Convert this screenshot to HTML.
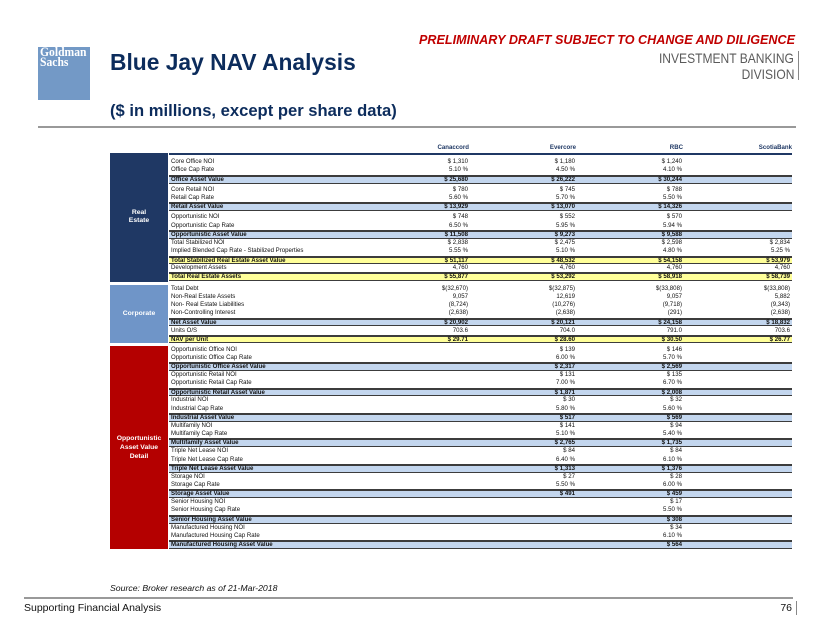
<!DOCTYPE html>
<html><head><meta charset="utf-8">
<style>
html,body{margin:0;padding:0}
body{width:830px;height:641px;position:relative;overflow:hidden;background:#fff;font-family:"Liberation Sans",Arial,sans-serif}
.abs{position:absolute;white-space:nowrap}
.r{position:absolute;left:169px;width:623px;box-sizing:border-box;font-size:6.1px;color:#111;white-space:nowrap}
.r span{position:absolute;top:0}
.l{left:2px}
.a{right:324px}.b{right:217px}.c{right:110px}.d{right:2px}
.s{background:#c3d6ee;border-top:2px solid #3c3c3c;border-bottom:1px solid #3c3c3c;font-weight:bold}
.y{background:#ffff99;border-top:2px solid #3c3c3c;border-bottom:1px solid #3c3c3c;font-weight:bold}
.n84{height:8.4px;line-height:8.4px}
.n83{height:8.3px;line-height:8.3px}
.n8{height:8px;line-height:8px}
.t88{height:8.8px;line-height:5.8px}
.t85{height:8.5px;line-height:5.5px}
.t883{height:8.83px;line-height:5.83px}
.h{position:absolute;top:144px;font-size:6.1px;font-weight:bold;color:#1f3864;line-height:8px;white-space:nowrap}
.box{position:absolute;left:110px;width:58px;display:flex;align-items:center;justify-content:center;text-align:center;color:#fff;font-weight:bold;font-size:6.8px;line-height:8.5px}
</style></head><body>

<!-- Logo -->
<div class="abs" style="left:38px;top:47px;width:52px;height:53px;background:#7399c6;"></div>
<div class="abs" style="left:40px;top:48px;font-family:'Liberation Serif',serif;font-weight:bold;font-size:12.5px;line-height:9.5px;color:#fff;transform:scaleX(0.93);transform-origin:left top;">Goldman<br>Sachs</div>

<!-- Header -->
<div class="abs" style="right:35px;top:33px;font-size:12.6px;line-height:14px;font-weight:bold;font-style:italic;color:#c00000;">PRELIMINARY DRAFT SUBJECT TO CHANGE AND DILIGENCE</div>
<div class="abs" style="right:36px;top:50px;font-size:14px;line-height:16px;color:#5a5a5a;transform:scaleX(0.86);transform-origin:right top;">INVESTMENT BANKING</div>
<div class="abs" style="right:36px;top:66px;font-size:14px;line-height:16px;color:#5a5a5a;transform:scaleX(0.86);transform-origin:right top;">DIVISION</div>
<div class="abs" style="left:798px;top:51px;width:1px;height:29px;background:#888;"></div>

<div class="abs" style="left:110px;top:49px;font-size:22.8px;line-height:26px;font-weight:bold;color:#0c2c5c;">Blue Jay NAV Analysis</div>
<div class="abs" style="left:110px;top:101px;font-size:16.6px;line-height:20px;font-weight:bold;color:#0c2c5c;">($ in millions, except per share data)</div>
<div class="abs" style="left:38px;top:126px;width:758px;height:2px;background:#999;"></div>

<!-- Column headers -->
<div class="h" style="right:361px">Canaccord</div>
<div class="h" style="right:254px">Evercore</div>
<div class="h" style="right:147px">RBC</div>
<div class="h" style="right:38px">ScotiaBank</div>
<div class="abs" style="left:169px;top:153px;width:623px;height:2px;background:#1f3864;"></div>

<!-- Left boxes -->
<div class="box" style="top:153px;height:128.5px;background:#1f3864;">Real<br>Estate</div>
<div class="box" style="top:284.5px;height:58.5px;background:#6f95c8;">Corporate</div>
<div class="box" style="top:345.5px;height:203px;background:#b40000;line-height:9px;">Opportunistic<br>Asset Value<br>Detail</div>

<!-- Real Estate -->
<div class="r n84" style="top:158px"><span class="l">Core Office NOI</span><span class="a">$ 1,310</span><span class="b">$ 1,180</span><span class="c">$ 1,240</span></div>
<div class="r n84" style="top:166.4px"><span class="l">Office Cap Rate</span><span class="a">5.10 %</span><span class="b">4.50 %</span><span class="c">4.10 %</span></div>
<div class="r s t88" style="top:174.8px"><span class="l">Office Asset Value</span><span class="a">$ 25,680</span><span class="b">$ 26,222</span><span class="c">$ 30,244</span></div>
<div class="r n84" style="top:185.6px"><span class="l">Core Retail NOI</span><span class="a">$ 780</span><span class="b">$ 745</span><span class="c">$ 788</span></div>
<div class="r n84" style="top:194px"><span class="l">Retail Cap Rate</span><span class="a">5.60 %</span><span class="b">5.70 %</span><span class="c">5.50 %</span></div>
<div class="r s t88" style="top:202.4px"><span class="l">Retail Asset Value</span><span class="a">$ 13,929</span><span class="b">$ 13,070</span><span class="c">$ 14,326</span></div>
<div class="r n84" style="top:213.2px"><span class="l">Opportunistic NOI</span><span class="a">$ 748</span><span class="b">$ 552</span><span class="c">$ 570</span></div>
<div class="r n84" style="top:221.6px"><span class="l">Opportunistic Cap Rate</span><span class="a">6.50 %</span><span class="b">5.95 %</span><span class="c">5.94 %</span></div>
<div class="r s t88" style="top:230px"><span class="l">Opportunistic Asset Value</span><span class="a">$ 11,508</span><span class="b">$ 9,273</span><span class="c">$ 9,588</span></div>
<div class="r n84" style="top:238.8px"><span class="l">Total Stabilized NOI</span><span class="a">$ 2,838</span><span class="b">$ 2,475</span><span class="c">$ 2,598</span><span class="d">$ 2,834</span></div>
<div class="r n84" style="top:247.2px"><span class="l">Implied Blended Cap Rate - Stabilized Properties</span><span class="a">5.55 %</span><span class="b">5.10 %</span><span class="c">4.80 %</span><span class="d">5.25 %</span></div>
<div class="r y t88" style="top:255.6px"><span class="l">Total Stabilized Real Estate Asset Value</span><span class="a">$ 51,117</span><span class="b">$ 48,532</span><span class="c">$ 54,158</span><span class="d">$ 53,979</span></div>
<div class="r n8" style="top:264.4px"><span class="l">Development Assets</span><span class="a">4,760</span><span class="b">4,760</span><span class="c">4,760</span><span class="d">4,760</span></div>
<div class="r y t88" style="top:272.4px"><span class="l">Total Real Estate Assets</span><span class="a">$ 55,877</span><span class="b">$ 53,292</span><span class="c">$ 58,918</span><span class="d">$ 58,739</span></div>

<!-- Corporate -->
<div class="r n83" style="top:284.5px"><span class="l">Total Debt</span><span class="a">$(32,670)</span><span class="b">$(32,875)</span><span class="c">$(33,808)</span><span class="d">$(33,808)</span></div>
<div class="r n83" style="top:292.8px"><span class="l">Non-Real Estate Assets</span><span class="a">9,057</span><span class="b">12,619</span><span class="c">9,057</span><span class="d">5,882</span></div>
<div class="r n83" style="top:301.1px"><span class="l">Non- Real Estate Liabilities</span><span class="a">(8,724)</span><span class="b">(10,276)</span><span class="c">(9,718)</span><span class="d">(9,343)</span></div>
<div class="r n83" style="top:309.4px"><span class="l">Non-Controlling Interest</span><span class="a">(2,638)</span><span class="b">(2,638)</span><span class="c">(291)</span><span class="d">(2,638)</span></div>
<div class="r s t88" style="top:317.7px"><span class="l">Net Asset Value</span><span class="a">$ 20,902</span><span class="b">$ 20,121</span><span class="c">$ 24,158</span><span class="d">$ 18,832</span></div>
<div class="r n8" style="top:326.5px"><span class="l">Units O/S</span><span class="a">703.6</span><span class="b">704.0</span><span class="c">791.0</span><span class="d">703.6</span></div>
<div class="r y t85" style="top:334.5px"><span class="l">NAV per Unit</span><span class="a">$ 29.71</span><span class="b">$ 28.60</span><span class="c">$ 30.50</span><span class="d">$ 26.77</span></div>

<!-- Opportunistic detail -->
<div class="r n83" style="top:345.5px"><span class="l">Opportunistic Office NOI</span><span class="b">$ 139</span><span class="c">$ 146</span></div>
<div class="r n83" style="top:353.8px"><span class="l">Opportunistic Office Cap Rate</span><span class="b">6.00 %</span><span class="c">5.70 %</span></div>
<div class="r s t883" style="top:362.1px"><span class="l">Opportunistic Office Asset Value</span><span class="b">$ 2,317</span><span class="c">$ 2,569</span></div>

<div class="r n83" style="top:370.93px"><span class="l">Opportunistic Retail NOI</span><span class="b">$ 131</span><span class="c">$ 135</span></div>
<div class="r n83" style="top:379.23px"><span class="l">Opportunistic Retail Cap Rate</span><span class="b">7.00 %</span><span class="c">6.70 %</span></div>
<div class="r s t883" style="top:387.53px"><span class="l">Opportunistic Retail Asset Value</span><span class="b">$ 1,871</span><span class="c">$ 2,008</span></div>

<div class="r n83" style="top:396.36px"><span class="l">Industrial NOI</span><span class="b">$ 30</span><span class="c">$ 32</span></div>
<div class="r n83" style="top:404.66px"><span class="l">Industrial Cap Rate</span><span class="b">5.80 %</span><span class="c">5.60 %</span></div>
<div class="r s t883" style="top:412.96px"><span class="l">Industrial Asset Value</span><span class="b">$ 517</span><span class="c">$ 569</span></div>

<div class="r n83" style="top:421.79px"><span class="l">Multifamily NOI</span><span class="b">$ 141</span><span class="c">$ 94</span></div>
<div class="r n83" style="top:430.09px"><span class="l">Multifamily Cap Rate</span><span class="b">5.10 %</span><span class="c">5.40 %</span></div>
<div class="r s t883" style="top:438.39px"><span class="l">Multifamily Asset Value</span><span class="b">$ 2,765</span><span class="c">$ 1,735</span></div>

<div class="r n83" style="top:447.22px"><span class="l">Triple Net Lease NOI</span><span class="b">$ 84</span><span class="c">$ 84</span></div>
<div class="r n83" style="top:455.52px"><span class="l">Triple Net Lease Cap Rate</span><span class="b">6.40 %</span><span class="c">6.10 %</span></div>
<div class="r s t883" style="top:463.82px"><span class="l">Triple Net Lease Asset Value</span><span class="b">$ 1,313</span><span class="c">$ 1,376</span></div>

<div class="r n83" style="top:472.65px"><span class="l">Storage NOI</span><span class="b">$ 27</span><span class="c">$ 28</span></div>
<div class="r n83" style="top:480.95px"><span class="l">Storage Cap Rate</span><span class="b">5.50 %</span><span class="c">6.00 %</span></div>
<div class="r s t883" style="top:489.25px"><span class="l">Storage Asset Value</span><span class="b">$ 491</span><span class="c">$ 459</span></div>

<div class="r n83" style="top:498.08px"><span class="l">Senior Housing NOI</span><span class="c">$ 17</span></div>
<div class="r n83" style="top:506.38px"><span class="l">Senior Housing Cap Rate</span><span class="c">5.50 %</span></div>
<div class="r s t883" style="top:514.68px"><span class="l">Senior Housing Asset Value</span><span class="c">$ 308</span></div>

<div class="r n83" style="top:523.51px"><span class="l">Manufactured Housing NOI</span><span class="c">$ 34</span></div>
<div class="r n83" style="top:531.81px"><span class="l">Manufactured Housing Cap Rate</span><span class="c">6.10 %</span></div>
<div class="r s t883" style="top:540.11px"><span class="l">Manufactured Housing Asset Value</span><span class="c">$ 564</span></div>

<!-- Footer -->
<div class="abs" style="left:110px;top:583px;font-size:8.7px;line-height:10px;font-style:italic;color:#111;">Source: Broker research as of 21-Mar-2018</div>
<div class="abs" style="left:24px;top:597px;width:769px;height:2px;background:#999;"></div>
<div class="abs" style="left:24px;top:602px;font-size:10.5px;line-height:13px;color:#111;">Supporting Financial Analysis</div>
<div class="abs" style="right:38px;top:602px;font-size:10.5px;line-height:13px;color:#111;">76</div>
<div class="abs" style="left:796px;top:601px;width:1px;height:14px;background:#888;"></div>

</body></html>
